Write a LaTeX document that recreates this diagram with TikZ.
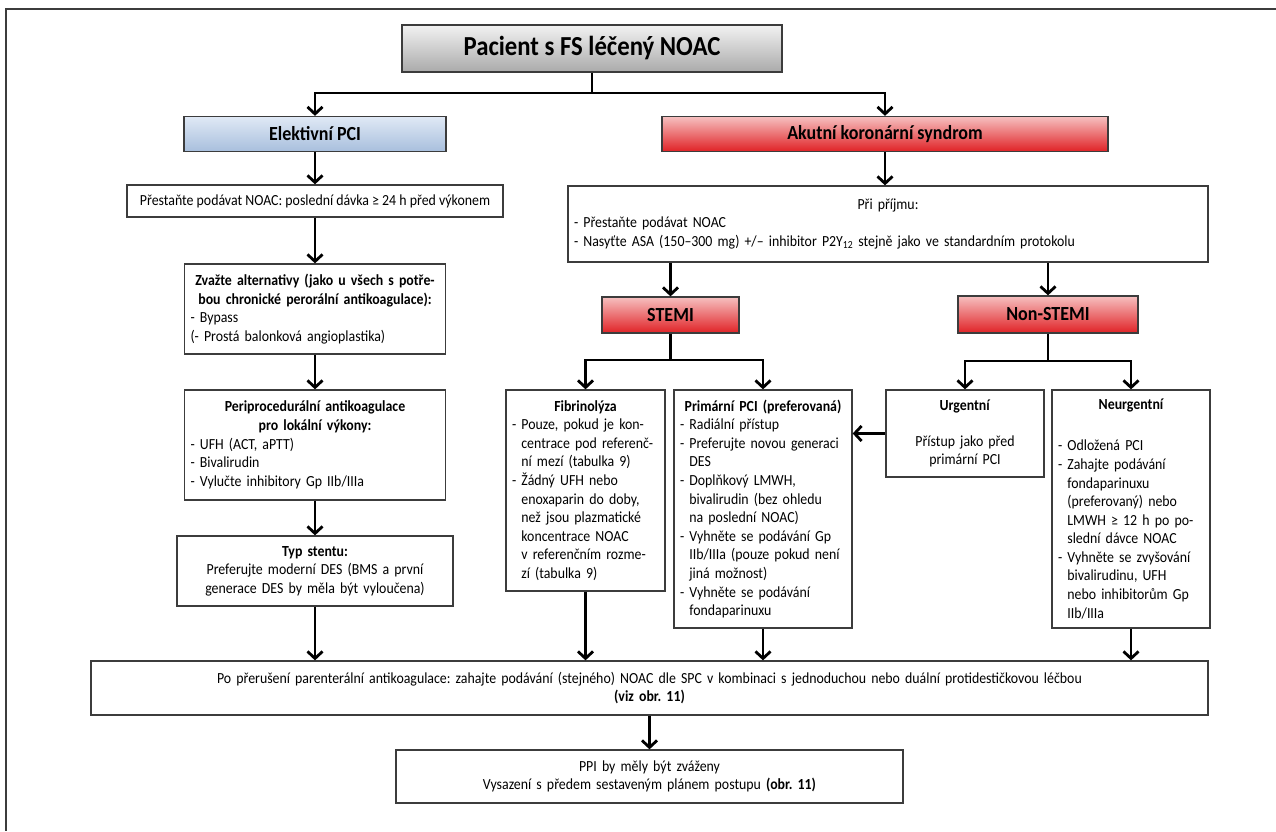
\documentclass[tikz,border=0pt]{standalone}
\usepackage{fontspec}
\setmainfont{Carlito}[FakeStretch=0.9]
\usepackage{xcolor}
\usepackage{tikz}
\usetikzlibrary{positioning,arrows.meta}
\frenchspacing

\definecolor{edgegray}{RGB}{60,60,60}
\definecolor{greytop}{RGB}{242,242,242}
\definecolor{greybot}{RGB}{170,170,170}
\definecolor{bluetop}{RGB}{224,233,245}
\definecolor{bluebot}{RGB}{168,191,221}
\definecolor{redtop}{RGB}{246,192,192}
\definecolor{redbot}{RGB}{224,34,38}

\newcommand{\boxfont}{\fontsize{15.4}{18.6}\selectfont}
\newcommand{\headfont}{\fontsize{20}{24}\selectfont\bfseries}
\newcommand{\cont}{\hphantom{- }}

\begin{document}
\begin{tikzpicture} [x=1pt, y=-1pt,
			box/.style={draw=edgegray, line width=1.3pt, fill=white, inner xsep=6pt, inner ysep=2pt, font=\boxfont},
			headbox/.style={draw=edgegray, line width=1.3pt, inner sep=0pt, font=\headfont},
			greyhead/.style={headbox, top color=greytop, bottom color=greybot},
			bluehead/.style={headbox, top color=bluetop, bottom color=bluebot},
			redhead/.style={headbox, top color=redtop, bottom color=redbot},
			stemline/.style={line width=2.8pt},
			arr/.style={line width=2.8pt, -{Straight Barb[length=7pt,width=15pt]}}]
\useasboundingbox (0,0) rectangle (1276,831);
\draw[edgegray, line width=2pt] (1276,9) -- (6,9) -- (6,831);

\node[greyhead, minimum width=380pt, minimum height=47pt, font=\fontsize{27.5}{32}\selectfont\bfseries] (title) at (592,48.5) {Pacient s FS léčený NOAC};
\node[bluehead, minimum width=262pt, minimum height=35pt] (elektiv) at (315,134) {Elektivní PCI};
\node[redhead, minimum width=446pt, minimum height=35pt] (acs) at (885,134) {Akutní koronární syndrom};

\node[box, minimum width=376pt, minimum height=32pt] (stop) at (315,201) {Přestaňte podávat NOAC: poslední dávka ≥ 24 h před výkonem};
\node[box, text width=249pt, minimum height=90pt, align=left] (alter) at (315,309) {{\centering\bfseries Zvažte alternativy (jako u všech s potře-\\ bou chronické perorální antikoagulace):\par}
	- Bypass\\
	(- Prostá balonková angioplastika)};
\node[box, text width=249pt, minimum height=110pt, align=left] (periproc) at (315,445) {{\centering\bfseries Periprocedurální antikoagulace\\ pro lokální výkony:\par}
	- UFH (ACT, aPTT)\\
	- Bivalirudin\\
	- Vylučte inhibitory Gp IIb/IIIa};
\node[box, text width=264pt, minimum height=70pt, align=center] (stent) at (315,571) {\textbf{Typ stentu:}\\ Preferujte moderní DES (BMS a první\\ generace DES by měla být vyloučena)};

\node[box, text width=628pt, minimum height=76pt, align=left] (admit) at (888,224) {{\centering Při příjmu:\par}
	- Přestaňte podávat NOAC\\
	- Nasyťte ASA (150–300 mg) +/– inhibitor P2Y\textsubscript{12} stejně jako ve standardním protokolu};
\node[redhead, minimum width=137pt, minimum height=36pt] (stemi) at (670.5,315) {STEMI};
\node[redhead, minimum width=180pt, minimum height=37pt] (nstemi) at (1048,314.5) {Non-STEMI};

\node[box, text width=147pt, minimum height=201pt, align=left] (fibrin) at (585.5,490.5) {{\centering\bfseries Fibrinolýza\par}
	- Pouze, pokud je kon-\\
	\cont centrace pod referenč-\\
	\cont ní mezí (tabulka 9)\\
	- Žádný UFH nebo\\
	\cont enoxaparin do doby,\\
	\cont než jsou plazmatické\\
	\cont koncentrace NOAC\\
	\cont v referenčním rozme-\\
	\cont zí (tabulka 9)};
\node[box, text width=166pt, minimum height=238pt, align=left] (primary) at (763,509) {{\centering\bfseries Primární PCI (preferovaná)\par}
	- Radiální přístup\\
	- Preferujte novou generaci\\
	\cont DES\\
	- Doplňkový LMWH,\\
	\cont bivalirudin (bez ohledu\\
	\cont na poslední NOAC)\\
	- Vyhněte se podávání Gp\\
	\cont IIb/IIIa (pouze pokud není\\
	\cont jiná možnost)\\
	- Vyhněte se podávání\\
	\cont fondaparinuxu};
\node[box, text width=146pt, minimum height=87pt, align=center] (urgent) at (965,433.5) {\textbf{Urgentní}\\[17.4pt] Přístup jako před\\ primární PCI};
\node[box, text width=146pt, minimum height=238pt, align=left] (nurgent) at (1131,509) {{\centering\bfseries Neurgentní\par}\vspace{22.4pt}
	- Odložená PCI\\
	- Zahajte podávání\\
	\cont fondaparinuxu\\
	\cont (preferovaný) nebo\\
	\cont LMWH ≥ 12 h po po-\\
	\cont slední dávce NOAC\\
	- Vyhněte se zvyšování\\
	\cont bivalirudinu, UFH\\
	\cont nebo inhibitorům Gp\\
	\cont IIb/IIIa};

\node[box, text width=1105pt, minimum height=54pt, align=center] (after) at (649.5,688) {Po přerušení parenterální antikoagulace: zahajte podávání (stejného) NOAC dle SPC v kombinaci s jednoduchou nebo duální protidestičkovou léčbou\\ \textbf{(viz obr. 11)}};
\node[box, text width=495pt, minimum height=53pt, align=center] (ppi) at (649.5,776.5) {PPI by měly být zváženy\\ Vysazení s předem sestaveným plánem postupu \textbf{(obr. 11)}};

\coordinate (split) at (592,93);
\draw[stemline] (title.south) -- (split);
\draw[arr] (split) -| (elektiv.north);
\draw[arr] (split) -| (acs.north);
\draw[arr] (elektiv.south) -- (stop.north);
\draw[arr] (stop.south) -- (alter.north);
\draw[arr] (alter.south) -- (periproc.north);
\draw[arr] (periproc.south) -- (stent.north);
\draw[arr] (stent.south) -- (stent.south |- after.north);

\draw[arr] (acs.south) -- (acs.south |- admit.north);
\draw[arr] (stemi.north |- admit.south) -- (stemi.north);
\draw[arr] (nstemi.north |- admit.south) -- (nstemi.north);

\coordinate (ssplit) at (670.5,360);
\draw[stemline] (stemi.south) -- (ssplit);
\draw[arr] (ssplit) -| (fibrin.north);
\draw[arr] (ssplit) -| (primary.north);
\coordinate (nsplit) at (1048,361);
\draw[stemline] (nstemi.south) -- (nsplit);
\draw[arr] (nsplit) -| (urgent.north);
\draw[arr] (nsplit) -| (nurgent.north);
\draw[arr] (urgent.west) -- (urgent.west -| primary.east);

\draw[arr] (fibrin.south) -- (fibrin.south |- after.north);
\draw[arr] (primary.south) -- (primary.south |- after.north);
\draw[arr] (nurgent.south) -- (nurgent.south |- after.north);
\draw[arr] (after.south) -- (ppi.north);
\end{tikzpicture}
\end{document}
